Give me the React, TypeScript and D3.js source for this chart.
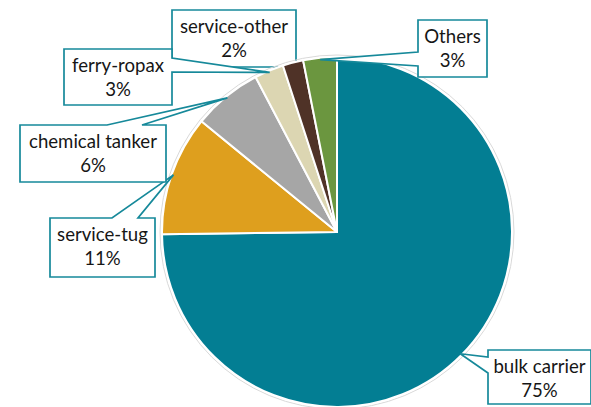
import React from "react";
import * as d3 from "d3";

const categories = ["bulk carrier", "service-tug", "chemical tanker", "ferry-ropax", "service-other", "Others"];
const shares = [74.8, 11.1, 6.4, 2.7, 1.9, 3.1];
const colors = ["#037E93", "#DE9F1E", "#A6A6A6", "#DCD6B2", "#4F3227", "#6B963F"];

// callout layout: box position/size, side of the pointer and its base offsets
const callouts = [
  { x: 488, y: 350, w: 103, h: 54, side: "left", a: 7, b: 23 },
  { x: 50, y: 218, w: 105, h: 59, side: "top", a: 62, b: 88 },
  { x: 20, y: 125, w: 146, h: 57, side: "top", a: 87, b: 122 },
  { x: 64, y: 49, w: 108, h: 56, side: "right", a: 9, b: 23 },
  { x: 172, y: 10, w: 124, h: 57, side: "none", a: 0, b: 0 },
  { x: 418, y: 20, w: 69, h: 57, side: "left", a: 32, b: 46 },
];

const W = 591, H = 407;
const cx = 337, cy = 232, R = 175;
const TEAL_LINE = "#16899A";
const FONT = "Lato, 'Open Sans', sans-serif";

function calloutPath(c: any, tip: [number, number]) {
  const { x, y, w, h, side, a, b } = c;
  const [tx, ty] = tip;
  switch (side) {
    case "top":
      return `M${x},${y}L${x + a},${y}L${tx},${ty}L${x + b},${y}L${x + w},${y}L${x + w},${y + h}L${x},${y + h}Z`;
    case "right":
      return `M${x},${y}L${x + w},${y}L${x + w},${y + a}L${tx},${ty}L${x + w},${y + b}L${x + w},${y + h}L${x},${y + h}Z`;
    case "left":
      return `M${x},${y}L${x + w},${y}L${x + w},${y + h}L${x},${y + h}L${x},${y + b}L${tx},${ty}L${x},${y + a}Z`;
    case "bottom":
      return `M${x},${y}L${x + w},${y}L${x + w},${y + h}L${x + b},${y + h}L${tx},${ty}L${x + a},${y + h}L${x},${y + h}Z`;
    default:
      return `M${x},${y}L${x + w},${y}L${x + w},${y + h}L${x},${y + h}Z`;
  }
}

export default function App() {
  const data = categories.map((c, i) => ({ name: c, value: shares[i], color: colors[i] }));
  const total = d3.sum(shares);
  const pie = d3.pie<any>().value((d: any) => d.value).sort(null).startAngle(0).endAngle(2 * Math.PI);
  const arcs = pie(data);
  const arc = d3.arc<any>().innerRadius(0).outerRadius(R);

  const tipOf = (a: any): [number, number] => {
    const m = (a.startAngle + a.endAngle) / 2;
    const rr = R * 0.99;
    return [cx + rr * Math.sin(m), cy - rr * Math.cos(m)];
  };

  const renderCallout = (i: number) => {
    const c = callouts[i];
    const a = arcs[i];
    const pct = Math.round((a.data.value / total) * 100) + "%";
    return (
      <g key={"c" + i}>
        <path d={calloutPath(c, tipOf(a))} fill="#fff" stroke={TEAL_LINE} strokeWidth={1.7} strokeLinejoin="miter" />
        <text x={c.x + c.w / 2} y={c.y + 23} textAnchor="middle" fontFamily={FONT} fontSize={18.6} fill="#161616">
          {a.data.name}
        </text>
        <text x={c.x + c.w / 2} y={c.y + 46.5} textAnchor="middle" fontFamily={FONT} fontSize={18.6} fill="#161616">
          {pct}
        </text>
      </g>
    );
  };

  return (
    <div style={{ position: "fixed", left: 0, top: 0, width: W, height: H, background: "#fff" }}>
      <svg width={W} height={H} viewBox={`0 0 ${W} ${H}`} style={{ display: "block" }}>
        <rect width={W} height={H} fill="#fff" />
        {renderCallout(4)}
        <circle cx={cx} cy={cy} r={R + 2} fill="none" stroke="#d9d9d9" strokeWidth={1} />
        <g transform={`translate(${cx},${cy})`}>
          {arcs.map((a, i) => (
            <path key={i} d={arc(a) as string} fill={a.data.color} stroke="#fff" strokeWidth={2} strokeLinejoin="round" />
          ))}
        </g>
        {[0, 1, 2, 3, 5].map((i) => renderCallout(i))}
      </svg>
    </div>
  );
}
